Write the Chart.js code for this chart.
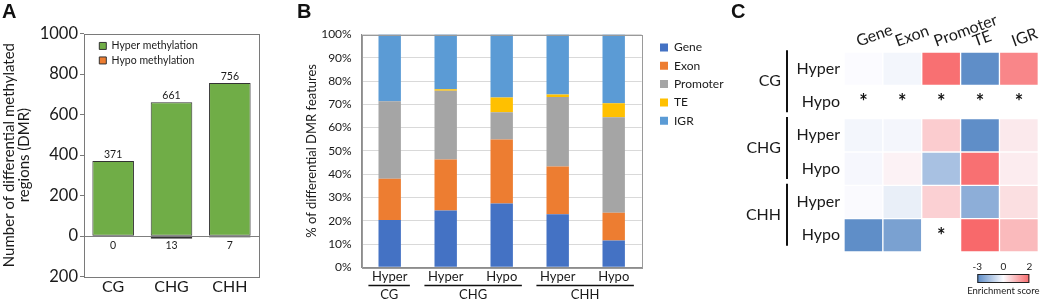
<!DOCTYPE html>
<html>
<head>
<meta charset="utf-8">
<script src="https://cdn.jsdelivr.net/npm/chart.js@4.4.1/dist/chart.umd.min.js"></script>
<style>
  html, body { margin: 0; padding: 0; background: #fff; }
  #wrap { position: relative; width: 1045px; height: 302px; overflow: hidden; }
  #wrap canvas { position: absolute; left: 0; top: 0; }
  .tag { position: absolute; top: 1px; font: bold 20px "Liberation Sans", Arial, sans-serif; line-height: 20px; color: #111; }
</style>
</head>
<body>
<div id="wrap">
  <canvas id="chartA" width="1045" height="302"></canvas>
  <canvas id="chartB" width="1045" height="302"></canvas>
  <canvas id="chartC" width="1045" height="302"></canvas>
  <div class="tag" style="left:2px">A</div>
  <div class="tag" style="left:297px">B</div>
  <div class="tag" style="left:731px">C</div>
</div>
<script>
// --- Panel A : nombre de DMR par contexte
const contexts = ['CG', 'CHG', 'CHH'];
const hyperCounts = [371, 661, 756];
const hypoCounts = [0, -13, -7];

// --- Panel B : repartition des DMR par type de region (%)
const dmrGroups = ['Hyper', 'Hyper', 'Hypo', 'Hyper', 'Hypo'];
const groupContexts = ['CG', 'CHG', 'CHG', 'CHH', 'CHH'];
const genePct = [20.3, 24.4, 27.4, 22.8, 11.5];
const exonPct = [17.7, 21.9, 27.5, 20.5, 11.9];
const promoterPct = [33.3, 29.5, 11.7, 29.8, 41.1];
const tePct = [0, 0.7, 6.3, 1.1, 6.0];
const igrPct = [28.7, 23.5, 27.1, 25.8, 29.5];

// --- Panel C : score d'enrichissement (null = asterisque)
const features = ['Gene', 'Exon', 'Promoter', 'TE', 'IGR'];
const heatRows = ['Hyper', 'Hypo', 'Hyper', 'Hypo', 'Hyper', 'Hypo'];
const heatContexts = ['CG', 'CHG', 'CHH'];
const cgHyper = [-0.02, -0.17, 1.9, -2.9, 1.6];
const cgHypo = [null, null, null, null, null];
const chgHyper = [-0.17, -0.15, 0.65, -2.9, 0.26];
const chgHypo = [-0.12, 0.13, -1.55, 1.9, 0.22];
const chhHyper = [-0.04, -0.35, 0.6, -2.05, 0.4];
const chhHypo = [-2.9, -2.4, null, 2.0, 0.9];
const scaleTicks = [-3, 0, 2];

const FONT = 'Lato';
const TXT = '#1a1a1a';

// couleurs echelle bleu-blanc-rouge (type Excel)
function heatColor(v) {
  const white = [252, 252, 255], blue = [90, 138, 198], red = [248, 105, 107];
  const end = v < 0 ? blue : red;
  const t = Math.min(1, v < 0 ? -v / 3 : v / 2);
  const c = white.map((w, i) => Math.round(w + (end[i] - w) * t));
  return `rgb(${c[0]},${c[1]},${c[2]})`;
}

// deplace la legende par rapport a la zone du graphe
const legendShift = {
  id: 'legendShift',
  afterLayout(chart, args, opts) {
    const lg = chart.legend, ca = chart.chartArea;
    if (!lg || opts.dx == null) return;
    const w = lg.width, h = lg.height;
    lg.left = (opts.from === 'right' ? ca.right : ca.left) + opts.dx;
    lg.top = ca.top + opts.dy;
    lg.right = lg.left + w;
    lg.bottom = lg.top + h;
  }
};

// cadre autour de la zone du graphe
const frame = {
  id: 'frame',
  afterDatasetsDraw(chart, args, opts) {
    if (!opts.color) return;
    const {ctx, chartArea: a} = chart;
    ctx.save();
    ctx.strokeStyle = opts.color;
    ctx.lineWidth = 1;
    ctx.strokeRect(Math.round(a.left) + 0.5, Math.round(a.top) + 0.5, Math.round(a.width), Math.round(a.height));
    ctx.restore();
  }
};

// valeurs au-dessus / en dessous des barres (panel A)
const barValues = {
  id: 'barValues',
  afterDatasetsDraw(chart) {
    const ctx = chart.ctx;
    const zeroY = chart.scales.y.getPixelForValue(0);
    ctx.save();
    ctx.font = `10.5px ${FONT}`;
    ctx.fillStyle = TXT;
    ctx.textAlign = 'center';
    chart.getDatasetMeta(0).data.forEach((bar, i) => {
      ctx.textBaseline = 'bottom';
      ctx.fillText(String(hyperCounts[i]), bar.x, bar.y - 1);
    });
    chart.getDatasetMeta(1).data.forEach((bar, i) => {
      ctx.textBaseline = 'middle';
      ctx.fillText(String(Math.abs(hypoCounts[i])), bar.x, zeroY + 9);
    });
    ctx.restore();
  }
};

// traits + noms de contexte sous l'axe x (panel B)
const contextBrackets = {
  id: 'contextBrackets',
  afterDraw(chart) {
    const {ctx, scales: {x}} = chart;
    const half = x.width / dmrGroups.length;
    const groups = [];
    groupContexts.forEach((g, i) => {
      const last = groups[groups.length - 1];
      if (last && last.name === g) last.to = i; else groups.push({name: g, from: i, to: i});
    });
    ctx.save();
    ctx.strokeStyle = '#111';
    ctx.lineWidth = 1.3;
    ctx.fillStyle = TXT;
    ctx.font = `13px ${FONT}`;
    ctx.textAlign = 'center';
    ctx.textBaseline = 'middle';
    groups.forEach(g => {
      const x0 = x.getPixelForValue(g.from) - half * 0.38;
      const x1 = x.getPixelForValue(g.to) + half * 0.36;
      ctx.beginPath();
      ctx.moveTo(x0, 285.5);
      ctx.lineTo(x1, 285.5);
      ctx.stroke();
      ctx.fillText(g.name, (x0 + x1) / 2, 295);
    });
    ctx.restore();
  }
};

// asterisques, contextes, echelle de couleur (panel C)
const heatExtras = {
  id: 'heatExtras',
  afterDatasetsDraw(chart) {
    const {ctx, chartArea: a, scales: {x, y}} = chart;
    const rows = [cgHyper, cgHypo, chgHyper, chgHypo, chhHyper, chhHypo];
    ctx.save();
    ctx.fillStyle = '#111';
    ctx.font = `bold 20px ${FONT}`;
    ctx.textAlign = 'center';
    ctx.textBaseline = 'middle';
    rows.forEach((vals, r) => vals.forEach((v, c) => {
      if (v == null) ctx.fillText('*', x.getPixelForValue(c), y.getPixelForValue(r + 0.5) + 1);
    }));

    // contextes CG / CHG / CHH avec trait vertical
    ctx.font = `16px ${FONT}`;
    ctx.textAlign = 'right';
    ctx.fillStyle = TXT;
    ctx.strokeStyle = '#111';
    ctx.lineWidth = 2;
    heatContexts.forEach((name, k) => {
      const top = y.getPixelForValue(k * 2), bot = y.getPixelForValue(k * 2 + 2);
      const mid = (top + bot) / 2 - 4;
      const lineX = a.left - 57;
      ctx.beginPath();
      ctx.moveTo(lineX, mid - 31);
      ctx.lineTo(lineX, mid + 31);
      ctx.stroke();
      ctx.fillText(name, lineX - 6, mid);
    });

    // barre de couleur
    const bw = 52, bh = 9;
    const bx = a.right - 61, by = a.bottom + 22;
    const grad = ctx.createLinearGradient(bx, 0, bx + bw, 0);
    grad.addColorStop(0, heatColor(-3));
    grad.addColorStop(0.5, heatColor(0));
    grad.addColorStop(1, heatColor(2));
    ctx.fillStyle = grad;
    ctx.fillRect(bx, by, bw, bh);
    ctx.strokeStyle = '#222';
    ctx.lineWidth = 1;
    ctx.strokeRect(bx + 0.5, by + 0.5, bw - 1, bh - 1);
    ctx.fillStyle = TXT;
    ctx.font = `10px ${FONT}`;
    ctx.textAlign = 'center';
    ctx.textBaseline = 'middle';
    scaleTicks.forEach((t, i) => {
      ctx.fillText(String(t), bx + bw * i / (scaleTicks.length - 1), by - 7);
    });
    ctx.font = `9.5px ${FONT}`;
    ctx.fillText('Enrichment score', bx + bw / 2, by + bh + 8);
    ctx.restore();
  }
};

Chart.defaults.font.family = FONT;
Chart.defaults.color = TXT;
Chart.defaults.animation = false;
Chart.defaults.responsive = false;
Chart.defaults.plugins.tooltip.enabled = false;

// ---------- Panel A
new Chart(document.getElementById('chartA'), {
  type: 'bar',
  data: {
    labels: contexts,
    datasets: [
      { label: 'Hyper methylation', data: hyperCounts, backgroundColor: '#70AD47', borderColor: '#333', borderWidth: 1, borderSkipped: false },
      { label: 'Hypo methylation', data: hypoCounts, backgroundColor: '#ED7D31', borderColor: '#333', borderWidth: 1, borderSkipped: false }
    ]
  },
  options: {
    layout: { padding: { left: 0, right: 786, top: 33.5, bottom: 0 } },
    datasets: { bar: { barPercentage: 0.713, categoryPercentage: 1 } },
    scales: {
      x: {
        stacked: true,
        grid: { display: false, drawTicks: false },
        border: { display: false },
        ticks: { font: { size: 16 }, padding: 1 },
        afterFit: s => { s.height = 25.3; }
      },
      y: {
        stacked: true,
        min: -200, max: 1000,
        ticks: { stepSize: 200, font: { size: 16.5 }, padding: 2, callback: v => Math.abs(v) },
        grid: {
          tickLength: 4, tickColor: '#7a7a7a',
          color: c => c.tick && c.tick.value === 0 ? '#7f7f7f' : 'rgba(0,0,0,0)'
        },
        border: { display: false },
        title: { display: true, text: ['Number of differential methylated', 'regions (DMR)'], font: { size: 15, lineHeight: 1.05 }, padding: { top: 1, bottom: 0 } },
        afterFit: s => { s.width = 84; }
      }
    },
    plugins: {
      legend: {
        position: 'chartArea', align: 'start',
        labels: { boxWidth: 7, boxHeight: 7, padding: 4, font: { size: 10.5 } }
      },
      legendShift: { from: 'left', dx: 11.3, dy: 3.2 },
      frame: { color: '#7a7a7a' }
    }
  },
  plugins: [legendShift, frame, barValues]
});

// ---------- Panel B
const segColors = ['#4472C4', '#ED7D31', '#A5A5A5', '#FFC000', '#5B9BD5'];
new Chart(document.getElementById('chartB'), {
  type: 'bar',
  data: {
    labels: dmrGroups,
    datasets: [
      { label: 'Gene', data: genePct, backgroundColor: segColors[0] },
      { label: 'Exon', data: exonPct, backgroundColor: segColors[1] },
      { label: 'Promoter', data: promoterPct, backgroundColor: segColors[2] },
      { label: 'TE', data: tePct, backgroundColor: segColors[3] },
      { label: 'IGR', data: igrPct, backgroundColor: segColors[4] }
    ]
  },
  options: {
    layout: { padding: { left: 250, right: 403.3, top: 34.5, bottom: 0 } },
    datasets: { bar: { barPercentage: 0.4, categoryPercentage: 1, borderWidth: 0 } },
    scales: {
      x: {
        stacked: true,
        grid: { display: false, drawTicks: false },
        border: { color: '#8c8c8c' },
        ticks: { font: { size: 13 }, padding: 2 },
        afterFit: s => { s.height = 34.7; }
      },
      y: {
        stacked: true,
        min: 0, max: 100,
        ticks: { stepSize: 10, font: { size: 12 }, padding: 10, callback: v => v + '%' },
        grid: { drawTicks: false, color: '#d9d9d9' },
        border: { color: '#8c8c8c' },
        title: { display: true, text: '% of differential DMR features', font: { size: 13 }, padding: { top: 54, bottom: 0 } },
        afterFit: s => { s.width = 111.7; }
      }
    },
    plugins: {
      legend: {
        position: 'chartArea', align: 'start',
        labels: { boxWidth: 8, boxHeight: 8, padding: 6.3, font: { size: 12 } }
      },
      legendShift: { from: 'right', dx: 12, dy: 0.7 },
      frame: { color: '#9a9a9a' }
    }
  },
  plugins: [legendShift, frame, contextBrackets]
});

// ---------- Panel C (carte de chaleur en barres flottantes)
const heatValues = [cgHyper, cgHypo, chgHyper, chgHypo, chhHyper, chhHypo];
new Chart(document.getElementById('chartC'), {
  type: 'bar',
  data: {
    labels: features,
    datasets: heatValues.map((vals, r) => ({
      label: heatContexts[Math.floor(r / 2)] + ' ' + heatRows[r],
      data: vals.map(v => v == null ? null : [r, r + 1]),
      backgroundColor: vals.map(v => v == null ? 'rgba(0,0,0,0)' : heatColor(v))
    }))
  },
  options: {
    layout: { padding: { left: 790, right: 5, top: 0, bottom: 50 } },
    datasets: { bar: { grouped: false, barPercentage: 1, categoryPercentage: 1, borderColor: '#fff', borderWidth: 1, borderSkipped: false } },
    scales: {
      x: {
        position: 'top',
        grid: { display: false, drawTicks: false },
        border: { display: false },
        ticks: { minRotation: 20, maxRotation: 20, autoSkip: false, font: { size: 16 }, padding: 1 },
        afterFit: s => { s.height = 52; }
      },
      y: {
        reverse: true,
        min: 0, max: heatRows.length,
        afterBuildTicks: s => { s.ticks = heatRows.map((_, i) => ({ value: i + 0.5 })); },
        ticks: { font: { size: 16 }, padding: 4, callback: (v, i) => heatRows[i] },
        grid: { display: false, drawTicks: false },
        border: { display: false },
        afterFit: s => { s.width = 54; }
      }
    },
    plugins: { legend: { display: false } }
  },
  plugins: [heatExtras]
});
</script>
</body>
</html>
